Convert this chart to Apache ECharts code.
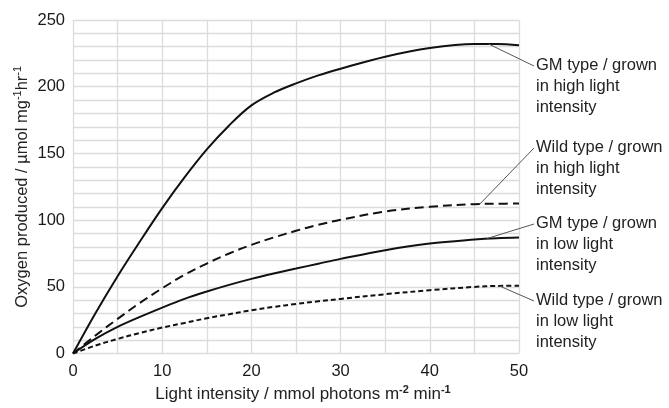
<!DOCTYPE html>
<html>
<head>
<meta charset="utf-8">
<title>Oxygen produced vs light intensity</title>
<script src="https://cdn.jsdelivr.net/npm/echarts@6/dist/echarts.min.js"></script>
<style>
  html, body { margin: 0; padding: 0; background: #fff; }
  #chart { width: 669px; height: 408px; }
</style>
</head>
<body>
<div id="chart"></div>
<script>
// light intensity (x)
const lightX = [0, 2.5, 5, 7.5, 10, 12.5, 15, 17.5, 20, 22.5, 25, 27.5, 30, 35, 40, 45, 47.5, 50]
// oxygen produced for each curve
const gmHigh = [0, 30, 58, 84, 109, 132, 153, 171, 186, 195.5, 202.5, 208.5, 213.5, 222.5, 229, 232, 232, 231]
const wildHigh = [0, 13.5, 26, 38, 49, 59, 67.5, 75, 81.5, 87, 92, 96.5, 100.3, 106.5, 110, 112, 112.3, 112.5]
const gmLow = [0, 11, 20, 27.5, 34.5, 41, 46.5, 51.5, 56, 60, 63.7, 67.4, 71, 77.5, 82.5, 85.5, 86.5, 87]
const wildLow = [0, 6, 11, 15.5, 19.5, 23, 26.5, 29.5, 32.5, 35, 37.2, 39.2, 41, 44.5, 47.5, 50, 50.7, 50.8]

const curveNames = ['GM type / grown\nin high light\nintensity', 'Wild type / grown\nin high light\nintensity', 'GM type / grown\nin low light\nintensity', 'Wild type / grown\nin low light\nintensity']
// where each leader line touches its curve (data coords)
const anchorPts = [[46.6, 232], [45.6, 112], [46.4, 86.2], [47.8, 50.7]]
// where each label block sits (pixels)
const labelPos = [[536, 55], [536, 137], [536, 213], [536, 290]]

const FONT = "'Liberation Sans', Arial, sans-serif"

function pairs (ys) {
  return lightX.map((x, i) => [x, ys[i]])
}

function makeSeries (name, ys, dash, idx) {
  return {
    name: name,
    type: 'line',
    data: pairs(ys),
    smooth: 0.35,
    showSymbol: false,
    silent: true,
    lineStyle: { color: '#111', width: 2, type: dash },
    markLine: {
      silent: true,
      symbol: ['none', 'none'],
      label: { show: false },
      lineStyle: { color: '#555', width: 1, type: 'solid' },
      data: [[
        { coord: anchorPts[idx] },
        { x: labelPos[idx][0] - 2, y: labelPos[idx][1] + 11 }
      ]]
    }
  }
}

const chart = echarts.init(document.getElementById('chart'))

const option = {
  animation: false,
  backgroundColor: '#fff',
  grid: { left: 73, right: 150, top: 20, bottom: 51, containLabel: false },
  xAxis: {
    type: 'value',
    min: 0,
    max: 50,
    interval: 10,
    name: '{n|Light intensity / mmol photons m}{sup|-2}{n| min}{sup|-1}',
    nameLocation: 'middle',
    nameGap: 29,
    nameTextStyle: {
      padding: [0, 0, 0, 14],
      rich: {
        n: { fontSize: 17, color: '#222', fontFamily: FONT, lineHeight: 20 },
        sup: { fontSize: 11, verticalAlign: 'top', color: '#222', fontFamily: FONT, fontWeight: 'bold' }
      }
    },
    axisLine: { show: false },
    axisTick: { show: false },
    axisLabel: { color: '#1a1a1a', fontSize: 16.5, fontFamily: FONT, margin: 9 },
    splitLine: { show: true, lineStyle: { color: '#dcdcdc', width: 1.3 } },
    minorTick: { show: false, splitNumber: 2 },
    minorSplitLine: { show: true, lineStyle: { color: '#dcdcdc', width: 1.3 } }
  },
  yAxis: {
    type: 'value',
    min: 0,
    max: 250,
    interval: 50,
    name: '{n|Oxygen produced / µmol mg}{sup|-1}{n|hr}{sup|-1}',
    nameLocation: 'middle',
    nameRotate: 90,
    nameGap: 41,
    nameMoveOverlap: false,
    nameTextStyle: {
      rich: {
        n: { fontSize: 16.5, color: '#222', fontFamily: FONT, lineHeight: 20 },
        sup: { fontSize: 11, verticalAlign: 'top', color: '#222', fontFamily: FONT }
      }
    },
    axisLine: { show: false },
    axisTick: { show: false },
    axisLabel: { color: '#1a1a1a', fontSize: 16.5, fontFamily: FONT, margin: 8 },
    splitLine: { show: true, lineStyle: { color: '#dcdcdc', width: 1.3 } },
    minorTick: { show: false, splitNumber: 5 },
    minorSplitLine: { show: true, lineStyle: { color: '#dcdcdc', width: 1.3 } }
  },
  graphic: curveNames.map((txt, i) => ({
    type: 'text',
    x: labelPos[i][0],
    y: labelPos[i][1],
    silent: true,
    style: {
      text: txt,
      fill: '#222',
      font: '16.5px ' + FONT,
      lineHeight: 21
    }
  })),
  series: [
    makeSeries('GM high', gmHigh, 'solid', 0),
    makeSeries('Wild high', wildHigh, [9, 5], 1),
    makeSeries('GM low', gmLow, 'solid', 2),
    makeSeries('Wild low', wildLow, [5, 3], 3)
  ]
}

chart.setOption(option)
</script>
</body>
</html>
